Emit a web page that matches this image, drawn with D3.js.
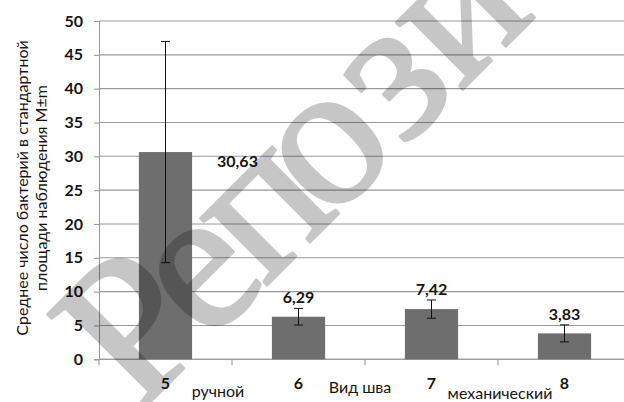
<!DOCTYPE html>
<html>
<head>
<meta charset="utf-8">
<script src="https://cdn.jsdelivr.net/npm/d3@7"></script>
<style>
  html, body { margin: 0; padding: 0; background: #fff; }
  svg { display: block; }
</style>
</head>
<body>
<svg id="chart" width="624" height="402"></svg>
<script>
// Среднее число бактерий по видам шва (M ± m)
const categories = ["5", "6", "7", "8"];
const means = [30.63, 6.29, 7.42, 3.83];
const errors = [16.35, 1.23, 1.35, 1.26];
const yTickValues = [0, 5, 10, 15, 20, 25, 30, 35, 40, 45, 50];
const sutureTypes = ["ручной", "Вид шва", "механический"];
const yTitleLines = ["Среднее число бактерий в стандартной", "площади наблюдения M±m"];
const watermarkText = "Репози";

const W = 624, H = 402;
const plot = { left: 99, top: 21, bottom: 359.3, right: 631 };
const FONT = "Lato, 'Open Sans', sans-serif";
const INK = "#151515";
const GRID = "#9a9a9a";

const svg = d3.select("#chart");

const x = d3.scaleBand().domain(categories).range([plot.left, plot.right]);
const y = d3.scaleLinear().domain([0, 50]).range([plot.bottom, plot.top]);
const barW = x.bandwidth() * 0.4;
const cx = c => x(c) + x.bandwidth() / 2;
const fmt = v => v.toFixed(2).replace(".", ",");

// horizontal gridlines
svg.append("g")
  .selectAll("line")
  .data(yTickValues)
  .join("line")
  .attr("x1", plot.left).attr("x2", W)
  .attr("y1", d => y(d)).attr("y2", d => y(d))
  .attr("stroke", GRID).attr("stroke-width", 1.1);

// y axis
const yAxis = svg.append("g")
  .attr("transform", `translate(${plot.left},0)`)
  .call(d3.axisLeft(y).tickValues(yTickValues).tickSize(5).tickPadding(11));
yAxis.select(".domain").attr("stroke", GRID).attr("stroke-width", 1.1);
yAxis.selectAll(".tick line").attr("stroke", GRID).attr("stroke-width", 1.1);
yAxis.selectAll(".tick text")
  .attr("font-family", FONT).attr("font-size", 16).attr("font-weight", 700)
  .attr("fill", INK);

// x axis baseline with ticks at category boundaries
const boundaries = categories.map(c => x(c)).concat([x.range()[1]]);
const xAxis = svg.append("g");
xAxis.append("line")
  .attr("x1", plot.left).attr("x2", W)
  .attr("y1", y(0)).attr("y2", y(0))
  .attr("stroke", GRID).attr("stroke-width", 1.1);
xAxis.selectAll("line.tick")
  .data(boundaries)
  .join("line")
  .attr("class", "tick")
  .attr("x1", d => d).attr("x2", d => d)
  .attr("y1", y(0)).attr("y2", y(0) + 6)
  .attr("stroke", GRID).attr("stroke-width", 1.1);

// bars
svg.append("g")
  .selectAll("rect")
  .data(categories)
  .join("rect")
  .attr("x", c => cx(c) - barW / 2)
  .attr("width", barW)
  .attr("y", (c, i) => y(means[i]))
  .attr("height", (c, i) => y(0) - y(means[i]))
  .attr("fill", "#6e6e6e");

// error bars
const eb = svg.append("g").attr("stroke", "#111").attr("stroke-width", 1);
categories.forEach((c, i) => {
  const hi = y(means[i] + errors[i]), lo = y(means[i] - errors[i]);
  eb.append("line").attr("x1", cx(c)).attr("x2", cx(c)).attr("y1", hi).attr("y2", lo);
  eb.append("line").attr("x1", cx(c) - 4.5).attr("x2", cx(c) + 4.5).attr("y1", hi).attr("y2", hi);
  eb.append("line").attr("x1", cx(c) - 4.5).attr("x2", cx(c) + 4.5).attr("y1", lo).attr("y2", lo);
});

// value labels: the tall first bar carries its label beside it
svg.append("g")
  .selectAll("text")
  .data(categories)
  .join("text")
  .attr("x", (c, i) => i === 0 ? cx(c) + 72 : cx(c))
  .attr("y", (c, i) => i === 0 ? y(means[i]) + 15 : y(means[i] + errors[i]) - 5)
  .attr("text-anchor", "middle")
  .attr("font-family", FONT).attr("font-size", 16).attr("font-weight", 700)
  .attr("fill", INK)
  .text((c, i) => fmt(means[i]));

// category numbers
svg.append("g")
  .selectAll("text")
  .data(categories)
  .join("text")
  .attr("x", c => cx(c))
  .attr("y", 388.5)
  .attr("text-anchor", "middle")
  .attr("font-family", FONT).attr("font-size", 16).attr("font-weight", 700)
  .attr("fill", INK)
  .text(c => c);

// suture type captions between the category numbers
const captionNudge = [-14, -5, 2];
const captionBase = [397, 393, 399];
svg.append("g")
  .selectAll("text")
  .data(sutureTypes)
  .join("text")
  .attr("x", (d, i) => boundaries[i + 1] + captionNudge[i])
  .attr("y", (d, i) => captionBase[i])
  .attr("text-anchor", "middle")
  .attr("font-family", FONT).attr("font-size", 16)
  .attr("fill", INK)
  .text(d => d);

// y axis title
const yTitle = svg.append("text")
  .attr("transform", "translate(28,188) rotate(-90)")
  .attr("text-anchor", "middle")
  .attr("font-family", FONT).attr("font-size", 16)
  .attr("fill", INK);
yTitle.selectAll("tspan")
  .data(yTitleLines)
  .join("tspan")
  .attr("x", 0)
  .attr("dy", (d, i) => i === 0 ? 0 : 18.5)
  .text(d => d);

// repository watermark, laid over the chart: glyphs set one by one along a
// 45° baseline (group opacity keeps outline and fill at one even tone)
const wmSize = 205;
const wmOrigin = [112, 440];
const wmAngle = -45 * Math.PI / 180;
const glyphCentres = [0.46, 0.88, 1.32, 1.75, 2.21, 2.67]; // in em along the baseline
const wm = svg.append("g").attr("opacity", 0.22);
wm.selectAll("text")
  .data(Array.from(watermarkText))
  .join("text")
  .attr("transform", (ch, i) => {
    const s = glyphCentres[i] * wmSize;
    const px = wmOrigin[0] + s * Math.cos(wmAngle);
    const py = wmOrigin[1] + s * Math.sin(wmAngle);
    return `translate(${px},${py}) rotate(-45)`;
  })
  .attr("text-anchor", "middle")
  .attr("font-family", "'Liberation Serif', serif")
  .attr("font-size", wmSize)
  .attr("fill", "#000")
  .attr("stroke", "#000")
  .attr("stroke-width", 3)
  .attr("stroke-linejoin", "round")
  .text(ch => ch);
</script>
</body>
</html>
